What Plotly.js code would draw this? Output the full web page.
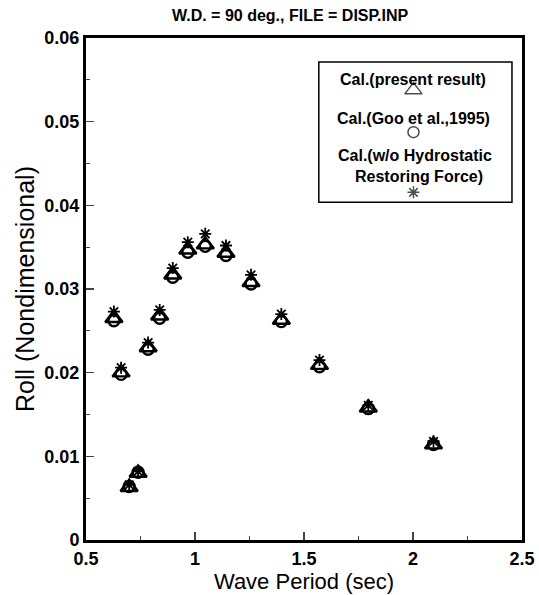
<!DOCTYPE html>
<html>
<head>
<meta charset="utf-8">
<script src="https://cdn.plot.ly/plotly-3.0.1.min.js"></script>
<style>html,body{margin:0;padding:0;background:#fff}#chart{width:539px;height:595px}</style>
</head>
<body>
<div id="chart"></div>
<script>
const period = [0.628, 0.661, 0.698, 0.739, 0.785, 0.838, 0.898, 0.967, 1.047, 1.142, 1.257, 1.396, 1.571, 1.795, 2.094];
const rollPresent = [0.0265, 0.0200, 0.0063, 0.0080, 0.0230, 0.0268, 0.0317, 0.0347, 0.0353, 0.0343, 0.0308, 0.0263, 0.0209, 0.0158, 0.0114];
const rollGoo = [0.0262, 0.0198, 0.0064, 0.0081, 0.0228, 0.0265, 0.0314, 0.0344, 0.0351, 0.0340, 0.0306, 0.0261, 0.0207, 0.0157, 0.0114];
const rollNoHydro = [0.0273, 0.0206, 0.0066, 0.0082, 0.0236, 0.0275, 0.0325, 0.0356, 0.0366, 0.0352, 0.0317, 0.0270, 0.0215, 0.0161, 0.0118];
const legendNames = ["Cal.(present result)", "Cal.(Goo et al.,1995)", "Cal.(w/o Hydrostatic", "Restoring Force)"];
const xTicks = [0.5, 1, 1.5, 2, 2.5];
const xTickText = ["0.5", "1", "1.5", "2", "2.5"];
const yTicks = [0, 0.01, 0.02, 0.03, 0.04, 0.05, 0.06];
const yTickText = ["0", "0.01", "0.02", "0.03", "0.04", "0.05", "0.06"];

const F = "Liberation Sans, Arial, sans-serif";
const traces = [
  {x: period, y: rollGoo, mode: "markers", type: "scatter",
   marker: {symbol: "circle-open", size: 11, color: "#000", line: {width: 2.4, color: "#000"}}},
  {x: period, y: rollPresent, mode: "markers", type: "scatter",
   marker: {symbol: "triangle-up-open", size: 15, color: "#000", line: {width: 2.4, color: "#000"}}},
  {x: period, y: rollNoHydro, mode: "markers", type: "scatter",
   marker: {symbol: "asterisk-open", size: 10, color: "#000", line: {width: 1.8, color: "#000"}}},
  // legend symbols
  {x: [0.49, 0.49, 0.49], y: [0.80, 0.50, 0.07], xaxis: "x2", yaxis: "y2", mode: "markers", type: "scatter",
   marker: {symbol: ["triangle-up-open", "circle-open", "asterisk-open"], size: [15, 11, 10], color: "#000",
            line: {width: 1.5, color: "#000"}}}
];

const layout = {
  width: 539, height: 595,
  margin: {l: 86, r: 17, t: 38, b: 55},
  paper_bgcolor: "#fff", plot_bgcolor: "#fff",
  showlegend: false,
  font: {family: F, color: "#000"},
  xaxis: {range: [0.5, 2.5], tickvals: xTicks, ticktext: xTickText, ticks: "inside", ticklen: 8, tickwidth: 1.2,
          minor: {dtick: 0.25, ticks: "inside", ticklen: 4, tickwidth: 1},
          showline: true, linewidth: 3, linecolor: "#000", mirror: true, showgrid: false, zeroline: false,
          tickfont: {family: F, size: 18, weight: "bold"},
          title: {text: "Wave Period (sec)", font: {family: F, size: 22}, standoff: 2}},
  yaxis: {range: [0, 0.06], tickvals: yTicks, ticktext: yTickText, ticks: "inside", ticklen: 8, tickwidth: 1.2,
          minor: {dtick: 0.005, ticks: "inside", ticklen: 4, tickwidth: 1},
          showline: true, linewidth: 3, linecolor: "#000", mirror: true, showgrid: false, zeroline: false,
          tickfont: {family: F, size: 18, weight: "bold"},
          title: {text: "Roll (Nondimensional)", font: {family: F, size: 25}, standoff: 3}},
  xaxis2: {domain: [0.534, 0.977], range: [0, 1], visible: false, anchor: "y2"},
  yaxis2: {domain: [0.673, 0.952], range: [0, 1], visible: false, anchor: "x2"},
  shapes: [{type: "rect", xref: "paper", yref: "paper", x0: 0.534, x1: 0.977, y0: 0.673, y1: 0.952,
            line: {color: "#000", width: 1.5}, fillcolor: "rgba(0,0,0,0)"}],
  annotations: [
    {text: "W.D. = 90 deg., FILE = DISP.INP", xref: "paper", yref: "paper", x: 0.47, y: 1.0, yshift: 23,
     xanchor: "center", yanchor: "middle", showarrow: false, font: {family: F, size: 16, weight: "bold"}},
    {text: legendNames[0], xref: "x2", yref: "y2", x: 0.49, y: 0.876, showarrow: false, font: {family: F, size: 16, weight: "bold"}},
    {text: legendNames[1], xref: "x2", yref: "y2", x: 0.49, y: 0.600, showarrow: false, font: {family: F, size: 16, weight: "bold"}},
    {text: legendNames[2], xref: "x2", yref: "y2", x: 0.50, y: 0.336, showarrow: false, font: {family: F, size: 16, weight: "bold"}},
    {text: legendNames[3], xref: "x2", yref: "y2", x: 0.52, y: 0.186, showarrow: false, font: {family: F, size: 16, weight: "bold"}}
  ]
};
Plotly.newPlot("chart", traces, layout, {displayModeBar: false, staticPlot: true});
</script>
</body>
</html>
